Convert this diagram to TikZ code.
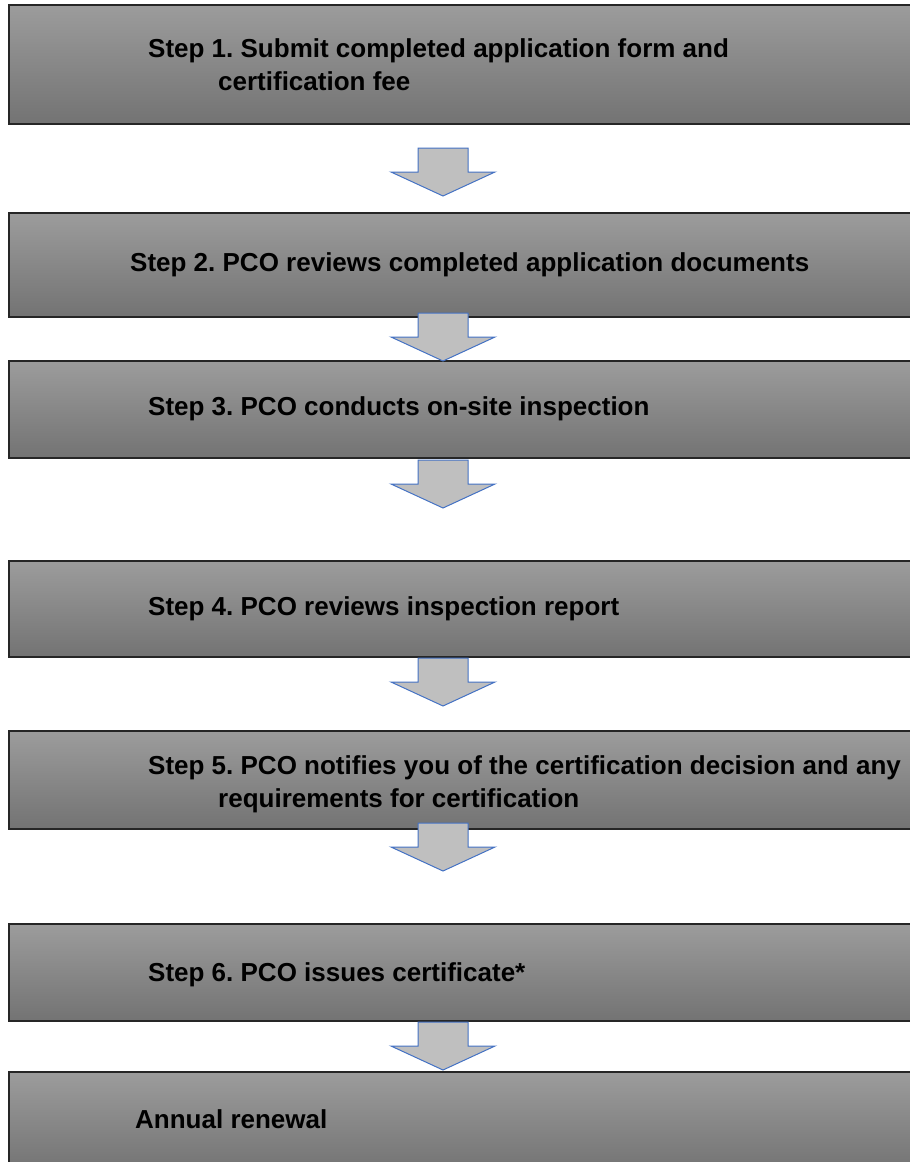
\documentclass[tikz,border=0pt]{standalone}
\usepackage{fontspec}
\setmainfont{Liberation Sans}
\frenchspacing
\usetikzlibrary{positioning,calc}
\definecolor{boxtop}{HTML}{9C9C9C}
\definecolor{boxbot}{HTML}{737373}
\definecolor{arrfill}{HTML}{BFBFBF}
\definecolor{arrline}{HTML}{4472C4}
\tikzset{
  stepbox/.style={rectangle, draw=black!85, line width=1.5pt, top color=boxtop,
                  bottom color=boxbot, minimum width=940pt, anchor=north west, inner sep=0pt},
  steptext/.style={align=left, inner sep=0pt, font=\fontsize{26}{33}\selectfont\bfseries},
  downar/.pic={
    \draw[fill=arrfill, draw=arrline, line width=1pt, line join=miter]
      (-25,0) -- (25,0) -- (25,-24) -- (52,-24) -- (0,-48) -- (-52,-24) -- (-25,-24) -- cycle;
  }
}

\begin{document}
\begin{tikzpicture}[x=1pt, y=1pt]
\useasboundingbox (0,0) rectangle (910,-1162);
% step boxes
\node[stepbox, minimum height=119pt] (box1) at (8,-4) {};
\node[stepbox, minimum height=104pt] (box2) at (8,-212) {};
\node[stepbox, minimum height=97pt] (box3) at (8,-360) {};
\node[stepbox, minimum height=96pt] (box4) at (8,-560) {};
\node[stepbox, minimum height=98pt] (box5) at (8,-730) {};
\node[stepbox, minimum height=97pt] (box6) at (8,-923) {};
\node[stepbox, minimum height=100pt] (box7) at (8,-1071) {};
% labels
\node[steptext, right=140pt of box1.west] (t1) {Step 1. Submit completed application form and\\\hspace*{70pt}certification fee};
\node[steptext, right=122pt of box2.west] (t2) {Step 2. PCO reviews completed application documents};
\node[steptext, right=140pt of box3.west] (t3) {Step 3. PCO conducts on-site inspection};
\node[steptext, right=140pt of box4.west] (t4) {Step 4. PCO reviews inspection report};
\node[steptext, right=140pt of box5.west, yshift=-5pt] (t5) {Step 5. PCO notifies you of the certification decision and any\\\hspace*{70pt}requirements for certification};
\node[steptext, right=140pt of box6.west, yshift=-3pt] (t6) {Step 6. PCO issues certificate*};
\node[steptext, right=127pt of box7.west, yshift=3pt] (t7) {Annual renewal};
% arrows between the boxes
\pic at (443,-148) {downar};
\pic at (443,-313) {downar};
\pic at (443,-460) {downar};
\pic at (443,-658) {downar};
\pic at (443,-823) {downar};
\pic at (443,-1022) {downar};
\end{tikzpicture}
\end{document}
